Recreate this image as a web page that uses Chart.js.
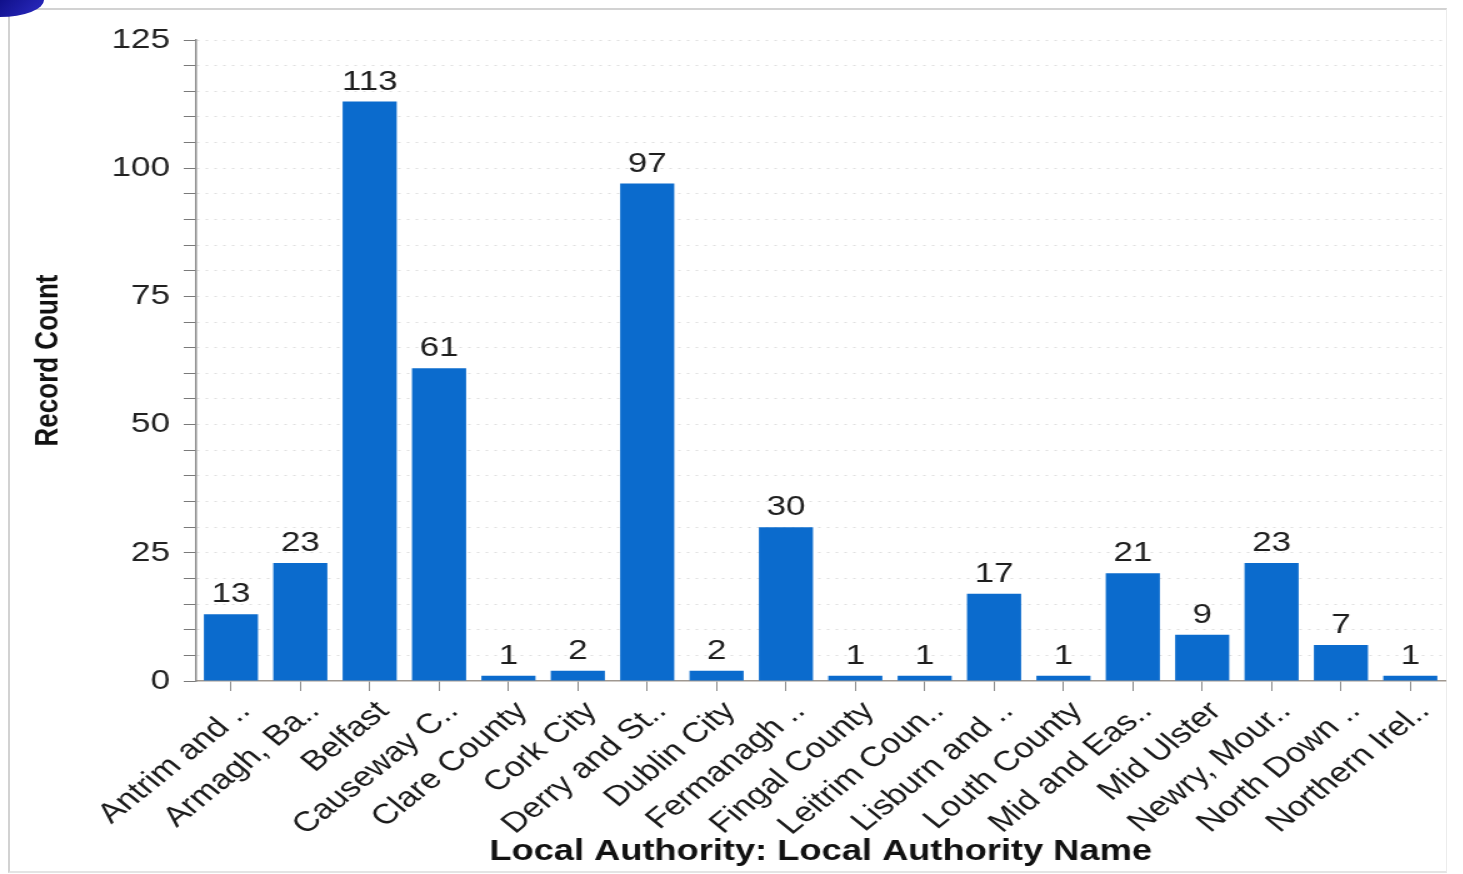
<!DOCTYPE html>
<html>
<head>
<meta charset="utf-8">
<title>Record Count by Local Authority</title>
<script src="https://cdn.jsdelivr.net/npm/chart.js@4.4.0/dist/chart.umd.min.js"></script>
<style>
    html, body { margin: 0; padding: 0; background: #fff; overflow: hidden; }
    #frame {
        position: absolute; left: 8px; top: 8px; width: 1436px; height: 861px;
        border-top: 2px solid #d2d2d2; border-left: 2px solid #d2d2d2;
        border-right: 1px solid #ececec; border-bottom: 2px solid #e4e4e4;
    }
    #corner {
        position: absolute; left: 0; top: 0; width: 44px; height: 17px;
        background: linear-gradient(135deg, #10108a, #2c2cc4);
        border-bottom-right-radius: 44px 17px;
    }
    /* chart is drawn narrow and widened, giving the wide lettering */
    #wrap {
        position: absolute; left: 0; top: 0; width: 1171px; height: 874px;
        transform: scaleX(1.25); transform-origin: 0 0;
    }
</style>
</head>
<body>
<div id="frame"></div>
<div id="corner"></div>
<div id="wrap"><canvas id="authorityChart" width="1171" height="874"></canvas></div>

<script>
// Categories and counts
const authorities = [
    'Antrim and ..', 'Armagh, Ba..', 'Belfast', 'Causeway C..', 'Clare County',
    'Cork City', 'Derry and St..', 'Dublin City', 'Fermanagh ..', 'Fingal County',
    'Leitrim Coun..', 'Lisburn and ..', 'Louth County', 'Mid and Eas..', 'Mid Ulster',
    'Newry, Mour..', 'North Down ..', 'Northern Irel..'
];
const recordCounts = [13, 23, 113, 61, 1, 2, 97, 2, 30, 1, 1, 17, 1, 21, 9, 23, 7, 1];

// y axis: ticks every 5, labelled every 25
const yMax = 125;
const yStep = 5;
const yLabelEvery = 25;

const barBlue = '#0b6bcd';
const fontFamily = "'Liberation Sans', Arial, sans-serif";

// Writes each bar's value above it
const valueLabels = {
    id: 'valueLabels',
    afterDatasetsDraw(chart) {
        const ctx = chart.ctx;
        const meta = chart.getDatasetMeta(0);
        ctx.save();
        ctx.font = '28px ' + fontFamily;
        ctx.fillStyle = '#1e1e1e';
        ctx.textAlign = 'center';
        ctx.textBaseline = 'alphabetic';
        meta.data.forEach((bar, i) => {
            ctx.fillText(String(recordCounts[i]), bar.x, bar.y - 12);
        });
        ctx.restore();
    }
};

new Chart(document.getElementById('authorityChart'), {
    type: 'bar',
    data: {
        labels: authorities,
        datasets: [{
            label: 'Record Count',
            data: recordCounts,
            backgroundColor: barBlue,
            borderWidth: 0,
            barPercentage: 0.78,
            categoryPercentage: 1.0
        }]
    },
    options: {
        responsive: false,
        animation: false,
        layout: { padding: { top: 40, right: 15, bottom: 0, left: 0 } },
        plugins: {
            legend: { display: false },
            tooltip: { enabled: false }
        },
        scales: {
            x: {
                grid: {
                    offset: false,
                    drawOnChartArea: false,
                    drawTicks: true,
                    tickLength: 10,
                    tickColor: '#8a8a8a'
                },
                border: { color: '#a09890', width: 1.5 },
                ticks: {
                    autoSkip: false,
                    minRotation: 45,
                    maxRotation: 45,
                    padding: 4,
                    labelOffset: 11,
                    color: '#1a1a1a',
                    font: { family: fontFamily, size: 28 }
                },
                title: {
                    display: true,
                    text: 'Local Authority: Local Authority Name',
                    color: '#111',
                    font: { family: fontFamily, size: 29, weight: 'bold' },
                    padding: { top: 0, bottom: 5 }
                },
                afterFit(scale) { scale.height = 874 - 681; }
            },
            y: {
                min: 0,
                max: yMax,
                grid: {
                    color: ctx => ctx.tick && ctx.tick.value === 0 ? 'rgba(0,0,0,0)' : 'rgba(0,0,0,0.13)',
                    lineWidth: 1,
                    tickLength: 10,
                    tickColor: '#7a7a7a',
                    tickBorderDash: []
                },
                border: { color: '#8a8a8a', width: 1.5, dash: [2, 5] },
                ticks: {
                    stepSize: yStep,
                    autoSkip: false,
                    padding: 11,
                    color: '#222',
                    font: { family: fontFamily, size: 28 },
                    callback: v => (v % yLabelEvery === 0 ? v : '')
                },
                title: {
                    display: true,
                    text: 'Record Count',
                    color: '#111',
                    font: { family: fontFamily, size: 26, weight: 'bold' },
                    padding: { top: 23, bottom: 0 }
                },
                afterFit(scale) { scale.width = 157; }
            }
        }
    },
    plugins: [valueLabels]
});
</script>
</body>
</html>
